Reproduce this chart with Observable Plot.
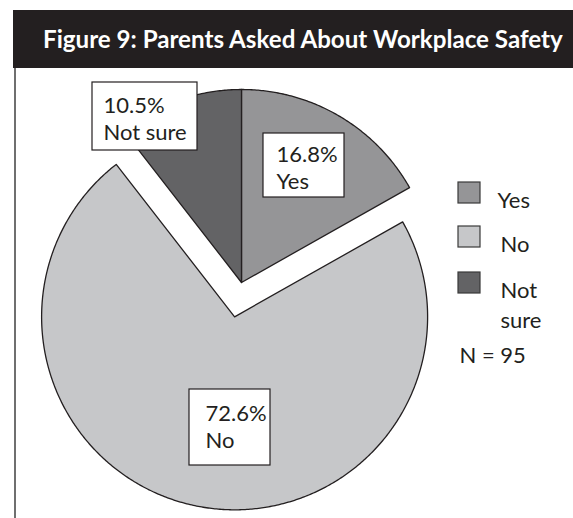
<!DOCTYPE html>
<html>
<head>
<meta charset="utf-8">
<script src="https://cdn.jsdelivr.net/npm/d3@7"></script>
<script src="https://cdn.jsdelivr.net/npm/@observablehq/plot@0.6"></script>
<style>
  html, body { margin: 0; padding: 0; background: #fff; }
  #wrap { position: relative; width: 573px; height: 518px; overflow: hidden; font-family: Lato, "Open Sans", sans-serif; }
  #chart { position: absolute; left: 0; top: 0; }
  #header { position: absolute; left: 13px; top: 10px; width: 560px; height: 58px; background: #231f20; color: #fff;
            font-weight: bold; font-size: 23px; line-height: 58px; white-space: nowrap; z-index: 2; }
  #header span { position: absolute; left: 30px; top: 0; }
  #border { position: absolute; left: 14px; top: 68px; width: 2px; height: 450px; background: #6f6f6f; }
</style>
</head>
<body>
<div id="wrap">
  <div id="chart"></div>
  <div id="header"><span id="title">Figure 9: Parents Asked About Workplace Safety</span></div>
  <div id="border"></div>
</div>
<script>
// ---- data ----
const categories = ["Yes", "No", "Not sure"];
const values = [16.8, 72.6, 10.5];
const percentLabels = ["16.8%", "72.6%", "10.5%"];
const sliceNames = ["Yes", "No", "Not sure"];
const legendLabels = ["Yes", "No", "Not\nsure"];
const colors = ["#959597", "#c6c7c9", "#636365"];
const noteText = "N = 95";

// ---- layout ----
const W = 573, H = 518;
const CX = 241, CY = 282, R = 193;
const explode = [0, 35, 0];
const ink = "#231f20";
const FS = 22;

const rows = categories.map((c, i) => ({cat: c, value: values[i], i}));
const arcs = d3.pie().sort(null).value(d => d.value).startAngle(0).endAngle(2 * Math.PI)(rows);

const polys = [];
arcs.forEach(a => {
  const i = a.data.i;
  const mid = (a.startAngle + a.endAngle) / 2;
  const ox = CX + explode[i] * Math.sin(mid);
  const oy = CY - explode[i] * Math.cos(mid);
  polys.push({cat: a.data.cat, x: ox, y: oy});
  const n = Math.max(2, Math.ceil((a.endAngle - a.startAngle) / (Math.PI / 360)));
  for (let k = 0; k <= n; k++) {
    const t = a.startAngle + (a.endAngle - a.startAngle) * k / n;
    polys.push({cat: a.data.cat, x: ox + R * Math.sin(t), y: oy - R * Math.cos(t)});
  }
});

// label boxes (layout) per category index
const boxes = [
  {i: 0, x1: 263, x2: 344, y1: 133, y2: 197},
  {i: 1, x1: 189, x2: 270, y1: 389, y2: 465},
  {i: 2, x1: 92, x2: 197, y1: 82, y2: 150}
];
// label placement (layout): x, first baseline, line gap (px)
const labelPos = [
  {x: 276, base: 158, gap: 27},
  {x: 205, base: 417, gap: 27},
  {x: 103, base: 109, gap: 27}
];
const labels = categories.map((c, i) => ({
  text: percentLabels[i] + "\n" + sliceNames[i],
  x: labelPos[i].x,
  y: labelPos[i].base - 0.71 * FS,
  lh: labelPos[i].gap / FS
}));

// legend layout
const legTop = [182, 226, 272];
const legend = categories.map((c, i) => ({cat: c, label: legendLabels[i], x1: 458, x2: 480, y1: legTop[i], y2: legTop[i] + 21, tx: i === 0 ? 497 : 500, ty: legTop[i] + 20 - 0.71 * 22}));

const sliceMarks = categories.map((c, i) =>
  Plot.line(polys.filter(d => d.cat === c), {x: "x", y: "y", fill: colors[i], stroke: ink, strokeWidth: 1.3, curve: "linear-closed"})
);

const chart = Plot.plot({
  width: W, height: H, margin: 0,
  x: {domain: [0, W], range: [0, W], axis: null},
  y: {domain: [0, H], range: [0, H], axis: null},
  style: {fontFamily: "Lato, 'Open Sans', sans-serif", background: "transparent"},
  marks: [
    ...sliceMarks,
    Plot.rect(boxes, {x1: "x1", x2: "x2", y1: "y1", y2: "y2", fill: "white", stroke: ink, strokeWidth: 1.2}),
    ...labels.map(l => Plot.text([l], {x: "x", y: "y", text: "text", textAnchor: "start", lineAnchor: "top", lineHeight: l.lh, fontSize: FS, fill: ink})),
    Plot.rect(legend, {x1: "x1", x2: "x2", y1: "y1", y2: "y2", fill: (d, i) => colors[i], stroke: "#3a3a3a", strokeWidth: 1.2}),
    Plot.text(legend, {x: "tx", y: "ty", text: "label", textAnchor: "start", lineAnchor: "top", lineHeight: 30 / 22, fontSize: 22, fill: ink}),
    Plot.text([noteText], {x: () => 459, y: () => 362 - 0.71 * 22, text: d => d, textAnchor: "start", lineAnchor: "top", fontSize: 22, fill: ink})
  ]
});
document.getElementById("chart").appendChild(chart);

// fit header text to its span in the reference (x 43 → 563)
const t = document.getElementById("title");
const w = t.getBoundingClientRect().width;
const fs = 23 * 520 / w;
t.style.fontSize = fs + "px";
</script>
</body>
</html>
